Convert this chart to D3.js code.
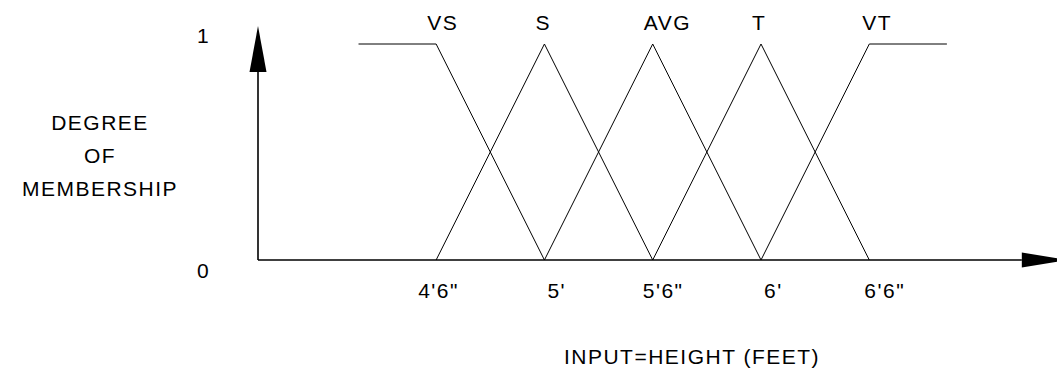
<!DOCTYPE html>
<html>
<head>
<meta charset="utf-8">
<script src="https://cdn.jsdelivr.net/npm/d3@7"></script>
<style>
  html, body { margin: 0; padding: 0; background: #fff; }
  svg text { font-family: "Liberation Sans", Arial, sans-serif; font-size: 21px; letter-spacing: 1.5px; fill: #000; }
</style>
</head>
<body>
<svg id="chart" width="1057" height="371"></svg>
<script>
// ---- data (heights in inches) ----
const setNames = ["VS", "S", "AVG", "T", "VT"];
const setX = [
  [49.7, 54, 60],
  [54, 60, 66],
  [60, 66, 72],
  [66, 72, 78],
  [72, 78, 82.3]
];
const setY = [
  [1, 1, 0],
  [0, 1, 0],
  [0, 1, 0],
  [0, 1, 0],
  [0, 1, 1]
];
const tickValues = [54, 60, 66, 72, 78];
const tickLabels = ["4'6\"", "5'", "5'6\"", "6'", "6'6\""];
const yTickValues = [0, 1];
const yTickLabels = ["0", "1"];
const xTitle = "INPUT=HEIGHT (FEET)";
const yTitle = ["DEGREE", "OF", "MEMBERSHIP"];

// ---- layout ----
const svg = d3.select("#chart");
const x = d3.scaleLinear().domain([44.13, 88.4]).range([258, 1057]);
const y = d3.scaleLinear().domain([0, 1]).range([260, 44]);
const xMin = 44.13, xAxisEnd = 89.0, yAxisEnd = 1.083;

const xt = x(xAxisEnd), yt = y(yAxisEnd), x0 = x(xMin), y0 = y(0);
// axes lines
svg.append("line").attr("x1", x0).attr("y1", y0).attr("x2", xt - 46).attr("y2", y0)
  .attr("stroke", "#000").attr("stroke-width", 1.6);
svg.append("line").attr("x1", x0).attr("y1", y0).attr("x2", x0).attr("y2", yt + 44)
  .attr("stroke", "#000").attr("stroke-width", 1.6);
// arrow heads
svg.append("path").attr("d", `M${xt},${y0} L${xt - 46},${y0 - 7.5} L${xt - 46},${y0 + 7.5} Z`).attr("fill", "#000");
svg.append("path").attr("d", `M${x0},${yt} L${x0 - 8.5},${yt + 46} L${x0 + 8.5},${yt + 46} Z`).attr("fill", "#000");

// membership functions
const line = d3.line().x(d => x(d[0])).y(d => y(d[1]));
setX.forEach((xs, i) => {
  svg.append("path").datum(xs.map((v, j) => [v, setY[i][j]]))
    .attr("d", line).attr("fill", "none").attr("stroke", "#000").attr("stroke-width", 1);
});

// set labels (left edges relative to peak)
const setLabelDx = [-9, -9, -9, -9, -7];
setNames.forEach((n, i) => {
  svg.append("text").attr("x", x(setX[i][1]) + setLabelDx[i]).attr("y", 30).text(n);
});

// x tick labels
const tickDx = [-18, 3, -10, 3, -5];
tickValues.forEach((v, i) => {
  svg.append("text").attr("x", x(v) + tickDx[i]).attr("y", 298).text(tickLabels[i]);
});
// y tick labels
yTickValues.forEach((v, i) => {
  svg.append("text").attr("x", 197).attr("y", y(v) + (v === 0 ? 18 : -1)).text(yTickLabels[i]);
});

// titles
svg.append("text").attr("x", 692).attr("y", 364).attr("text-anchor", "middle").text(xTitle);
const yTitleY = [130, 163, 196];
yTitle.forEach((t, i) => {
  svg.append("text").attr("x", 100).attr("y", yTitleY[i]).attr("text-anchor", "middle").text(t);
});
</script>
</body>
</html>
